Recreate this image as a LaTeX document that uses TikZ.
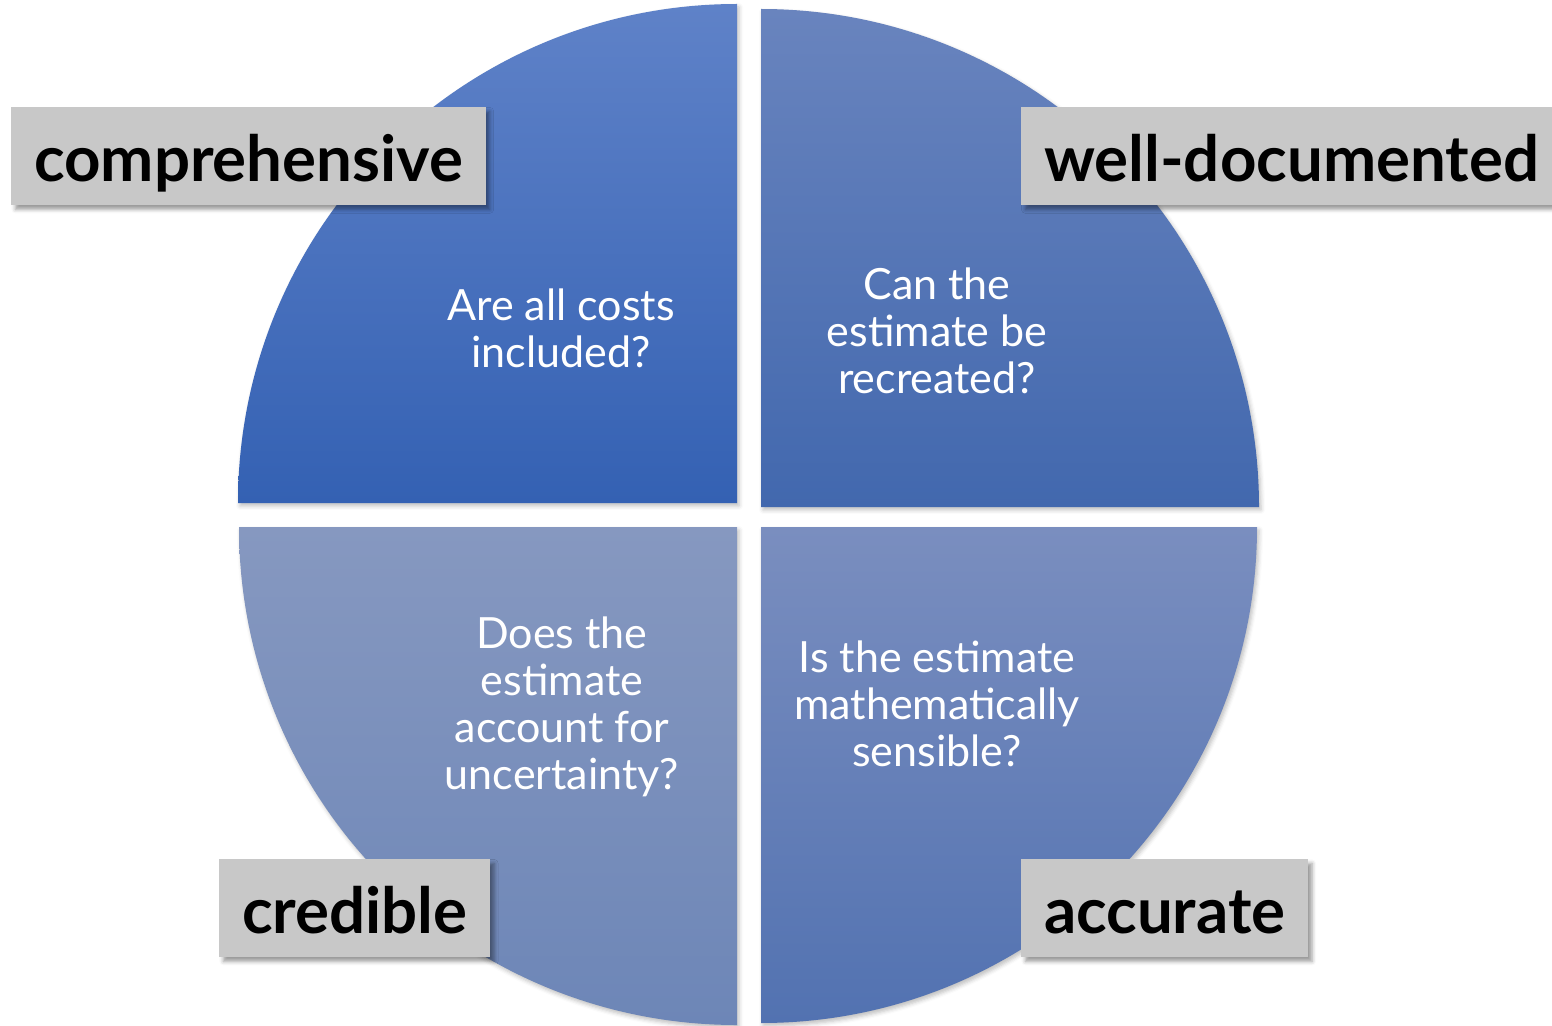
\documentclass[tikz,border=0pt]{standalone}
\usepackage{fontspec}
\setmainfont{Lato}
\usepackage{tikz}
\usetikzlibrary{shadows.blur}

\definecolor{tlTop}{HTML}{5F82C8}
\definecolor{tlBot}{HTML}{3461B3}
\definecolor{trTop}{HTML}{6984BE}
\definecolor{trBot}{HTML}{4268AE}
\definecolor{blTop}{HTML}{8698C0}
\definecolor{blBot}{HTML}{6D86B7}
\definecolor{brTop}{HTML}{7A8EBF}
\definecolor{brBot}{HTML}{5272B1}
\definecolor{boxGray}{HTML}{C8C8C8}

\begin{document}
\begin{tikzpicture}[x=0.5pt, y=0.5pt,
  quarter/.style={draw=none, blur shadow={shadow xshift=1pt, shadow yshift=-1.5pt, shadow blur radius=2pt, shadow opacity=25}},
  question/.style={text=white, align=center, font=\fontsize{21.5}{23.6}\selectfont},
  labelbox/.style={fill=boxGray, anchor=north west, inner ysep=0pt, inner xsep=11.3pt,
    text height=37pt, text depth=12pt, font=\fontsize{31.8}{36}\bfseries\selectfont,
    blur shadow={shadow xshift=2pt, shadow yshift=-2pt, shadow blur radius=2pt, shadow opacity=40}}]
\useasboundingbox (0,0) rectangle (1552,1025);
\clip (0,0) rectangle (1552,1025);

\path[quarter, top color=tlTop, bottom color=tlBot] (737,522) -- (238,522) arc[start angle=180, end angle=90, radius=499] -- cycle;
\path[quarter, top color=trTop, bottom color=trBot] (761,518) -- (761,1016) arc[start angle=90, end angle=0, radius=498] -- cycle;
\path[quarter, top color=blTop, bottom color=blBot] (737,498) -- (737,0) arc[start angle=270, end angle=180, radius=498] -- cycle;
\path[quarter, top color=brTop, bottom color=brBot] (761,498) -- (1257,498) arc[start angle=0, end angle=-90, radius=496] -- cycle;

\node[question] (costs) at (561,697) {Are all costs\\included?};
\node[question] (recreate) at (937,694) {Can the\\estimate be\\recreated?};
\node[question] (uncertain) at (562,318) {Does the\\estimate\\account for\\uncertainty?};
\node[question] (sensible) at (937,321) {Is the estimate\\mathematically\\sensible?};

\node[labelbox] (compr) at (11,918) {comprehensive};
\node[labelbox] (welldoc) at (1021,918) {well-documented};
\node[labelbox] (cred) at (219,166) {credible};
\node[labelbox] (accur) at (1021,166) {accurate};
\end{tikzpicture}
\end{document}
